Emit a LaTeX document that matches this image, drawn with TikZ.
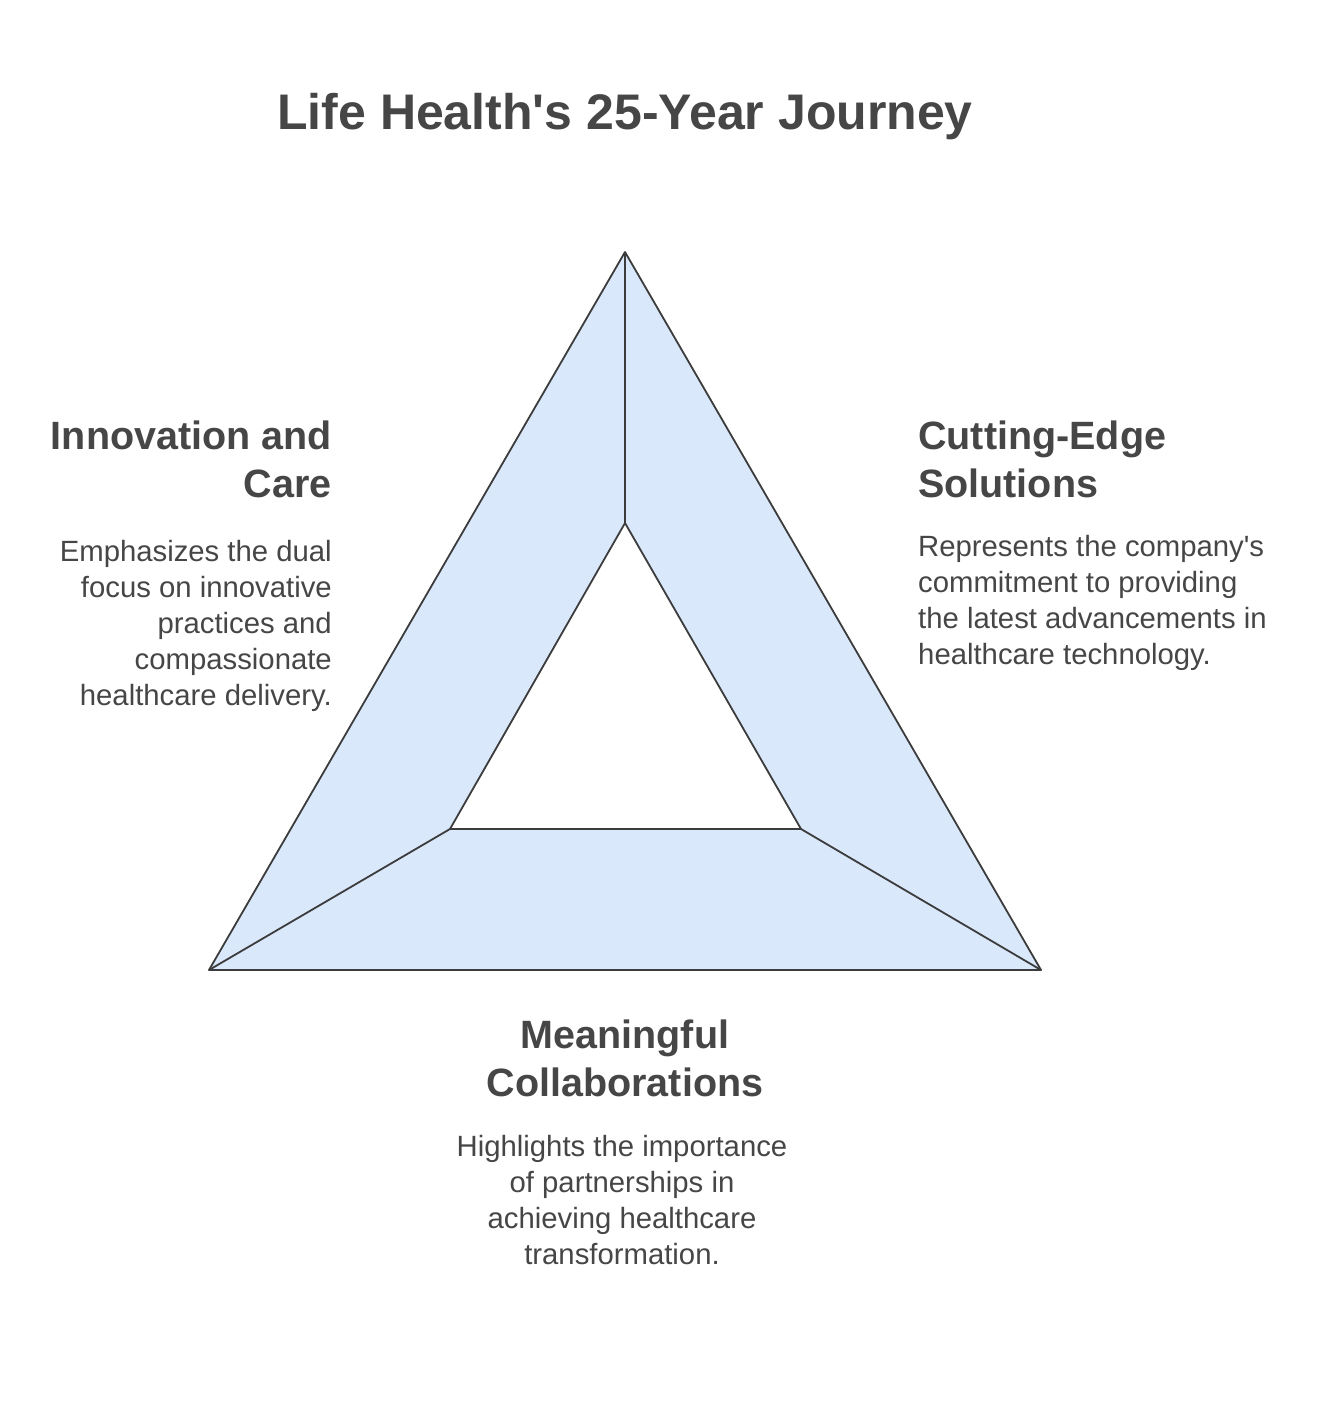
\documentclass[tikz,border=0pt]{standalone}
\usepackage{fontspec}
\setmainfont{Liberation Sans}
\definecolor{txt}{HTML}{464646}
\definecolor{band}{HTML}{DAE8FC}
\definecolor{edge}{HTML}{3C3C3C}
\tikzset{
  titletext/.style={text=txt, font=\bfseries\fontsize{50}{60}\selectfont, inner sep=0pt},
  headtext/.style={text=txt, font=\bfseries\fontsize{39.5}{48}\selectfont, inner sep=0pt},
  bodytext/.style={text=txt, font=\fontsize{29.3}{36}\selectfont, inner sep=0pt},
  bandline/.style={draw=edge, line width=1.8pt, line join=round},
}
\begin{document}
\begin{tikzpicture}[x=1pt,y=-1pt]
\useasboundingbox[fill=white] (0,0) rectangle (1322,1418);
\coordinate (A) at (625,252);
\coordinate (B) at (209,970);
\coordinate (C) at (1041,970);
\coordinate (a) at (625,523);
\coordinate (b) at (450,829);
\coordinate (c) at (801,829);
\filldraw[bandline, fill=band, even odd rule] (A) -- (C) -- (B) -- cycle (a) -- (c) -- (b) -- cycle;
\draw[bandline] (A) -- (a);
\draw[bandline] (B) -- (b);
\draw[bandline] (C) -- (c);

\node[titletext, anchor=base] (title) at (625,130) {Life Health\textquotesingle s 25-Year Journey};

\node[headtext, anchor=base east, align=right] (lh) at (332,497) {Innovation and\\Care};
\node[bodytext, anchor=base east, align=right] (lb) at (332,705) {Emphasizes the dual\\focus on innovative\\practices and\\compassionate\\healthcare delivery.};

\node[headtext, anchor=base west, align=left] (rh) at (918,497) {Cutting-Edge\\Solutions};
\node[bodytext, anchor=base west, align=left] (rb) at (918,664) {Represents the company\textquotesingle s\\commitment to providing\\the latest advancements in\\healthcare technology.};

\node[headtext, anchor=base, align=center] (bh) at (625,1096) {Meaningful\\Collaborations};
\node[bodytext, anchor=base, align=center] (bb) at (622,1264) {Highlights the importance\\of partnerships in\\achieving healthcare\\transformation.};
\end{tikzpicture}
\end{document}
